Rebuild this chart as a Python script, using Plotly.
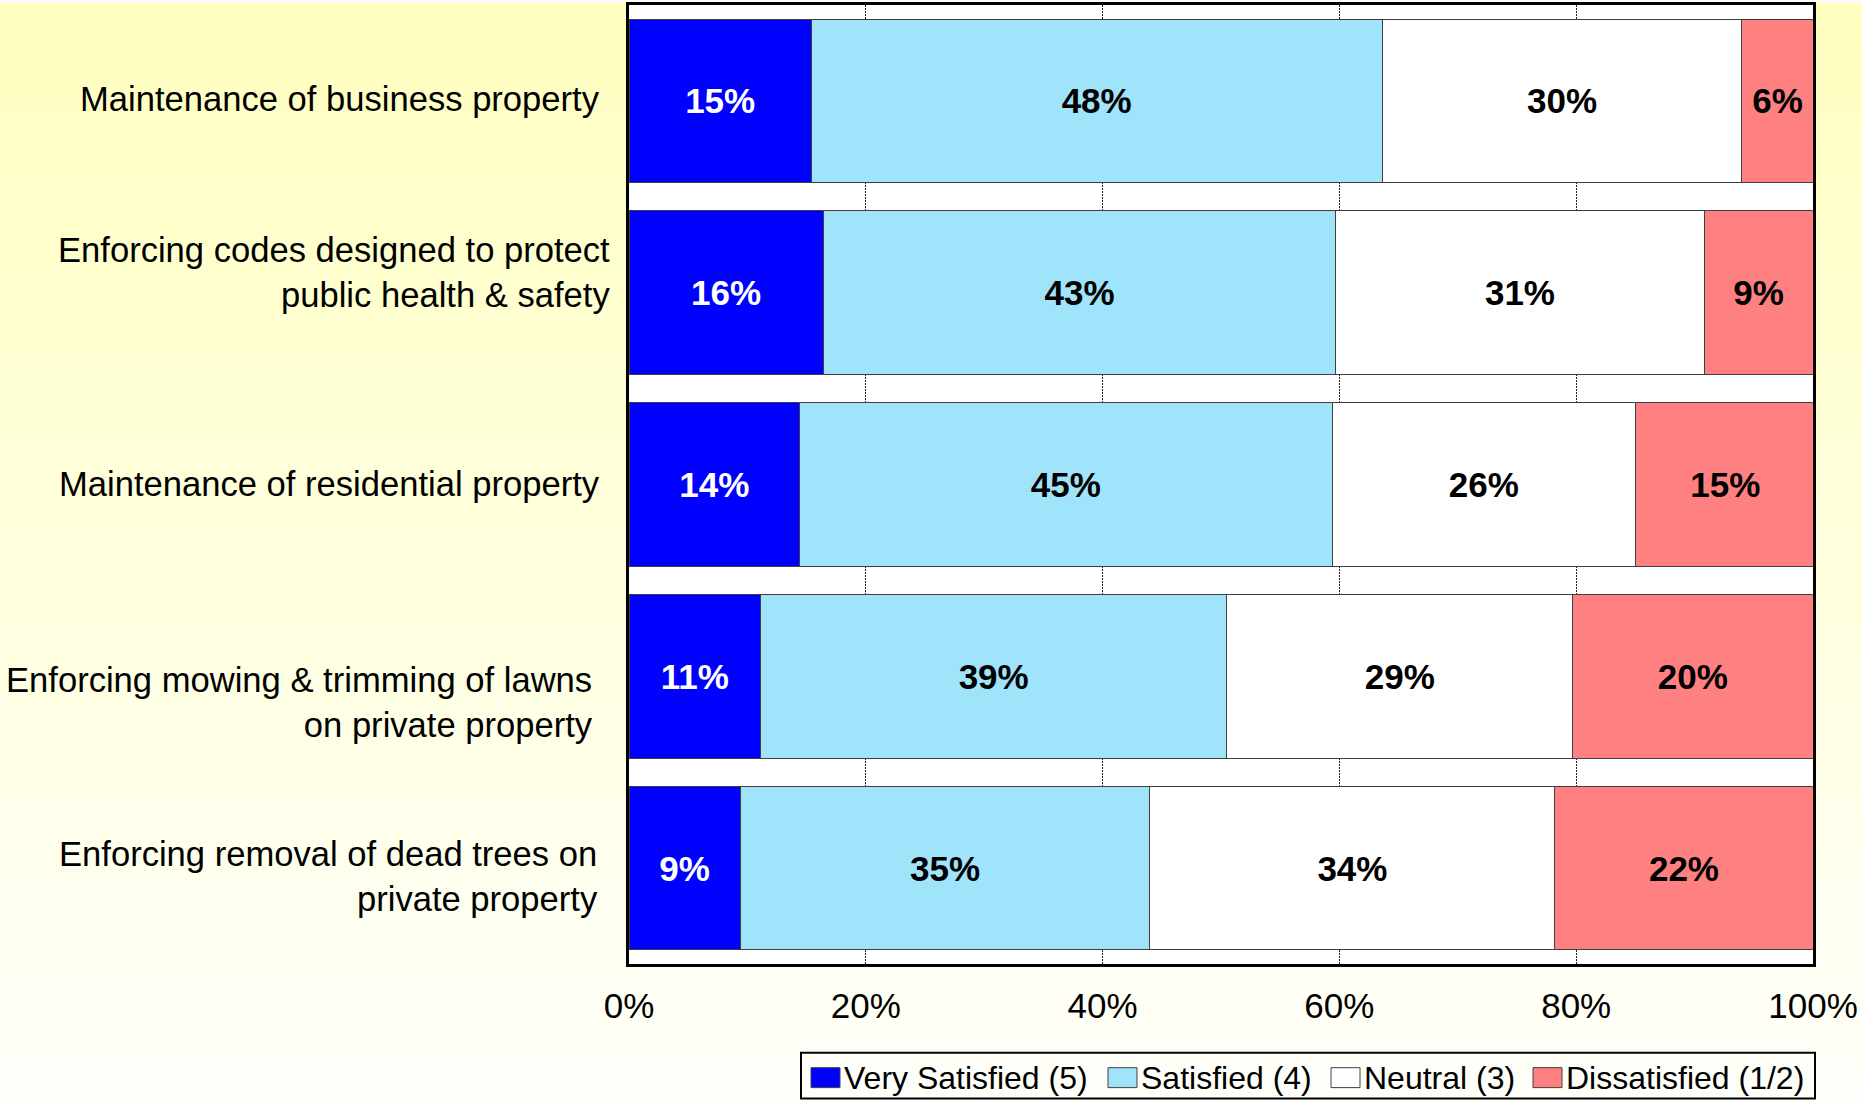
import plotly.graph_objects as go

# Survey items (top to bottom)
categories = [
    "Maintenance of business property",
    "Enforcing codes designed to protect<br>public health & safety",
    "Maintenance of residential property",
    "Enforcing mowing & trimming of lawns<br>on private property",
    "Enforcing removal of dead trees on<br>private property",
]

# Share of respondents per rating (percent)
very_satisfied = [15.4, 16.4, 14.4, 11.1, 9.4]
satisfied = [48.2, 43.3, 45.0, 39.4, 34.6]
neutral = [30.4, 31.1, 25.6, 29.2, 34.2]
dissatisfied = [6.0, 9.2, 15.2, 20.3, 21.8]

series_names = ["Very Satisfied (5)", "Satisfied (4)", "Neutral (3)", "Dissatisfied (1/2)"]
series_values = [very_satisfied, satisfied, neutral, dissatisfied]
series_colors = ["#0000FF", "#A0E4FC", "#FFFFFF", "#FF8080"]
text_colors = ["#FFFFFF", "#000000", "#000000", "#000000"]

x_ticks = [0, 20, 40, 60, 80, 100]
x_tick_labels = ["0%", "20%", "40%", "60%", "80%", "100%"]

FONT = "Liberation Sans, Arial, Helvetica, sans-serif"

# Page geometry (pixels)
FIG_W, FIG_H = 1862, 1100
M_L, M_R, M_T, M_B = 629, 49, 2, 136
PLOT_W = FIG_W - M_L - M_R
PLOT_H = FIG_H - M_T - M_B


def px_x(p):
    return (p - M_L) / PLOT_W


def px_y(p):
    return (FIG_H - M_B - p) / PLOT_H


fig = go.Figure()

for name, vals, color, tcol in zip(series_names, series_values, series_colors, text_colors):
    fig.add_trace(go.Bar(
        y=categories,
        x=vals,
        name=name,
        orientation="h",
        marker=dict(color=color, line=dict(color="#404040", width=1)),
        texttemplate="%{x:.0f}%",
        textposition="inside",
        insidetextanchor="middle",
        textangle=0,
        constraintext="none",
        insidetextfont=dict(family=FONT, size=35, color=tcol, weight="bold"),
        showlegend=False,
        hoverinfo="x+y+name",
    ))

shapes = []

# Soft yellow page gradient, light at the bottom
n_bands = 60
top_rgb = (255, 255, 192)
bot_rgb = (255, 255, 250)
for i in range(n_bands):
    t = i / (n_bands - 1)
    r = round(top_rgb[0] + (bot_rgb[0] - top_rgb[0]) * t)
    g = round(top_rgb[1] + (bot_rgb[1] - top_rgb[1]) * t)
    b = round(top_rgb[2] + (bot_rgb[2] - top_rgb[2]) * t)
    y_top = FIG_H * i / n_bands
    y_bot = FIG_H * (i + 1) / n_bands + 1
    shapes.append(dict(
        type="rect", xref="paper", yref="paper", layer="below",
        x0=px_x(0), x1=px_x(FIG_W), y0=px_y(y_bot), y1=px_y(y_top),
        fillcolor=f"rgb({r},{g},{b})", line=dict(width=0),
    ))

# White plotting area on top of the page gradient
shapes.append(dict(
    type="rect", xref="paper", yref="paper", layer="below",
    x0=0, x1=1, y0=0, y1=1, fillcolor="#FFFFFF", line=dict(width=0),
))

# Legend box
shapes.append(dict(
    type="rect", xref="paper", yref="paper", layer="above",
    x0=px_x(801), x1=px_x(1815), y0=px_y(1099), y1=px_y(1053),
    fillcolor="rgba(0,0,0,0)", line=dict(color="#000000", width=2),
))

annotations = []

# Legend entries: swatch left edges in pixels
legend_swatch_x = [811, 1108, 1331, 1533]
for name, color, sx in zip(series_names, series_colors, legend_swatch_x):
    shapes.append(dict(
        type="rect", xref="paper", yref="paper", layer="above",
        x0=px_x(sx), x1=px_x(sx + 29), y0=px_y(1088), y1=px_y(1068),
        fillcolor=color, line=dict(color="#404040", width=1),
    ))
    annotations.append(dict(
        text=name, xref="paper", yref="paper",
        x=px_x(sx + 31), y=px_y(1078), xanchor="left", yanchor="middle",
        showarrow=False, font=dict(family=FONT, size=32, color="#000000"),
    ))

# Category labels to the left of the bars
label_xshift = [-27, -17, -27, -34, -29]
label_yshift = [2, 20, 1, -26, -8]
for cat, dx, dy in zip(categories, label_xshift, label_yshift):
    annotations.append(dict(
        text=cat, xref="paper", yref="y", x=0, y=cat,
        xanchor="right", yanchor="middle", align="right",
        xshift=dx, yshift=dy, showarrow=False,
        font=dict(family=FONT, size=34.6, color="#000000"),
    ))

fig.update_layout(
    width=FIG_W,
    height=FIG_H,
    margin=dict(l=M_L, r=M_R, t=M_T, b=M_B, pad=0),
    barmode="stack",
    bargap=0.148,
    paper_bgcolor="#FFFFF8",
    plot_bgcolor="#FFFFFF",
    font=dict(family=FONT, size=34, color="#000000"),
    showlegend=False,
    shapes=shapes,
    annotations=annotations,
    xaxis=dict(
        range=[0, 100],
        tickvals=x_ticks,
        ticktext=x_tick_labels,
        showgrid=True,
        gridcolor="#222222",
        griddash="2px,1px",
        gridwidth=1,
        showline=True,
        linecolor="#000000",
        linewidth=3,
        mirror=True,
        ticks="",
        ticklabelstandoff=9,
        tickfont=dict(family=FONT, size=35, color="#000000"),
        zeroline=False,
        fixedrange=True,
    ),
    yaxis=dict(
        categoryorder="array",
        categoryarray=categories,
        autorange="reversed",
        showticklabels=False,
        showgrid=False,
        showline=True,
        linecolor="#000000",
        linewidth=3,
        mirror=True,
        ticks="",
        zeroline=False,
        fixedrange=True,
    ),
)

fig.write_html("out.html")
